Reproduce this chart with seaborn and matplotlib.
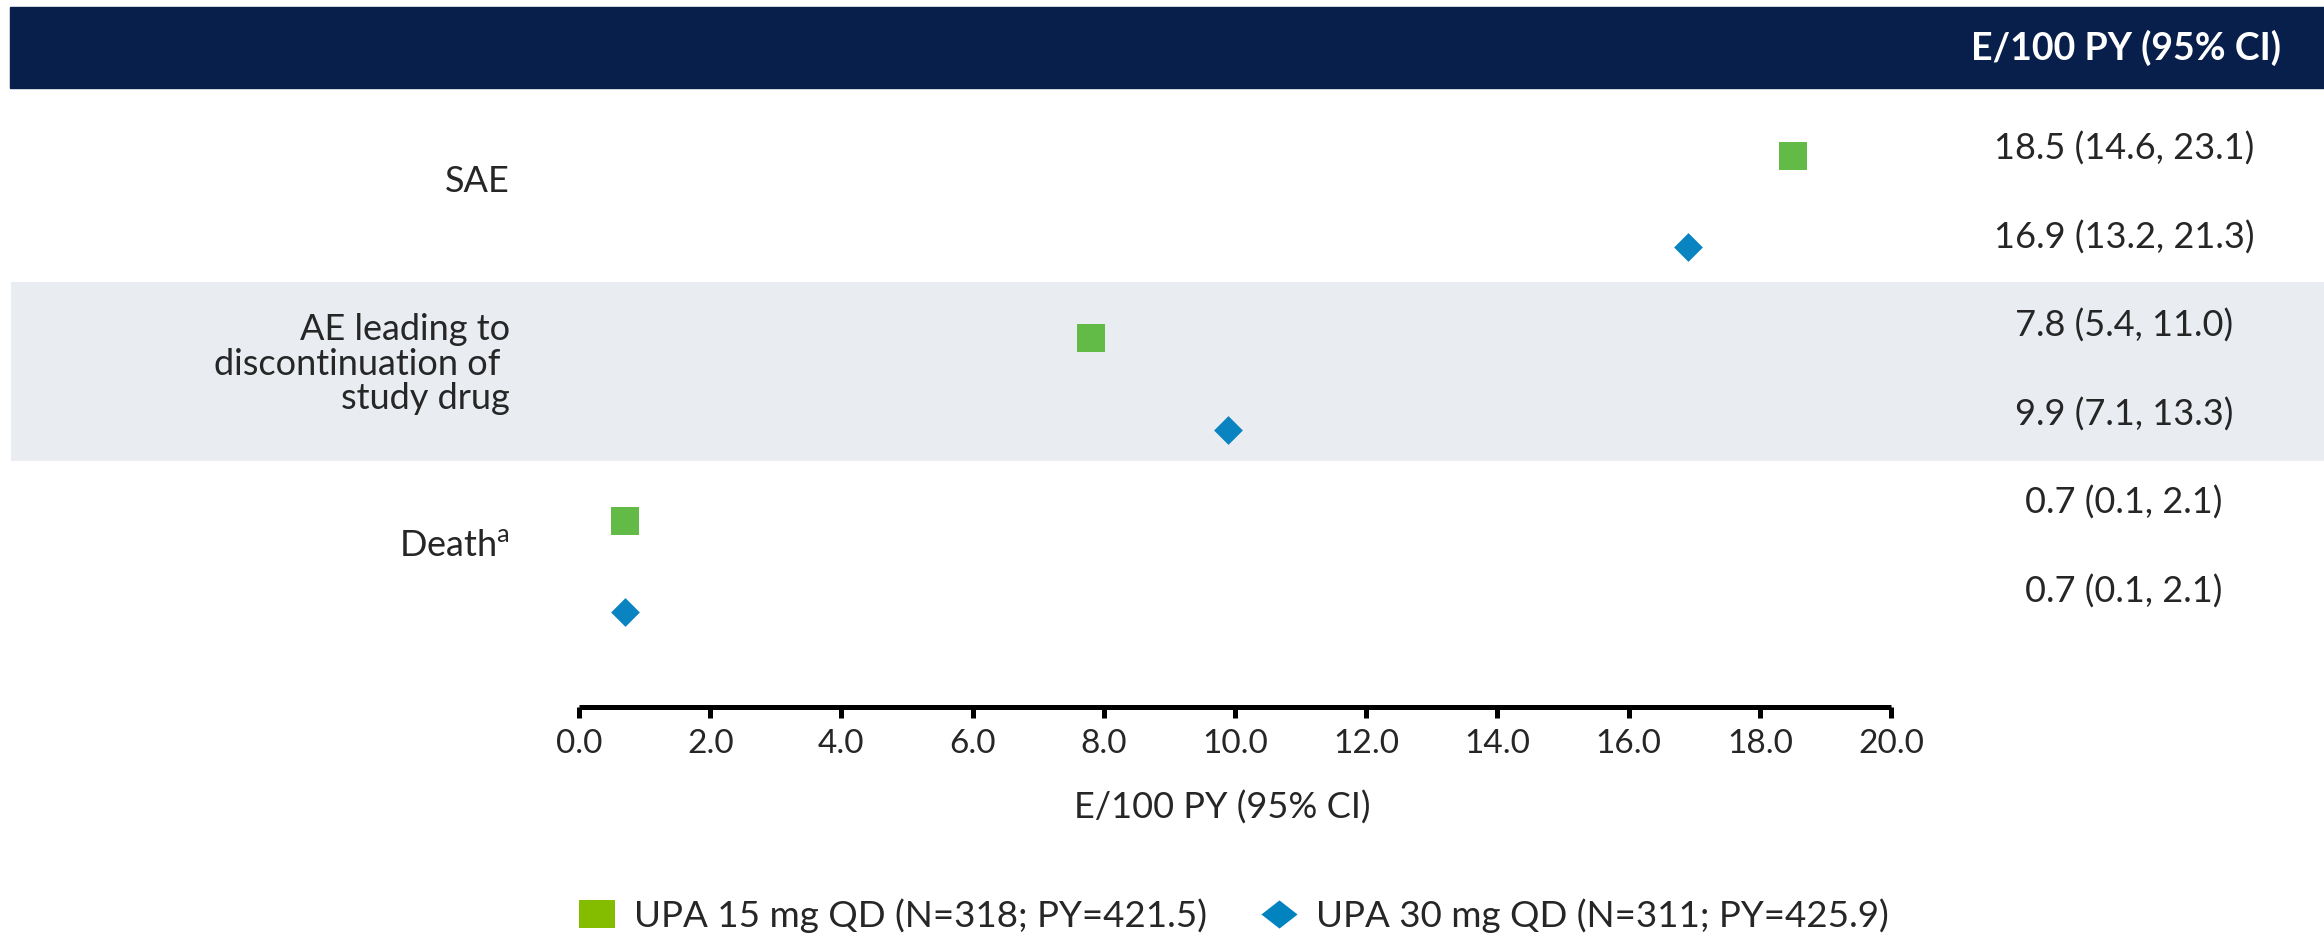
import numpy as np
import pandas as pd
import matplotlib
matplotlib.use("Agg")
import matplotlib.pyplot as plt
from matplotlib.patches import Rectangle
from matplotlib.lines import Line2D
from matplotlib.path import Path
import seaborn as sns

# ---- data -------------------------------------------------------------
categories = ["SAE",
              "AE leading to\ndiscontinuation of \nstudy drug",
              "Death$^{\\mathregular{a}}$"]
groups = ["UPA 15 mg QD (N=318; PY=421.5)", "UPA 30 mg QD (N=311; PY=425.9)"]
upa15_rate = [18.5, 7.8, 0.7]
upa15_lo = [14.6, 5.4, 0.1]
upa15_hi = [23.1, 11.0, 2.1]
upa30_rate = [16.9, 9.9, 0.7]
upa30_lo = [13.2, 7.1, 0.1]
upa30_hi = [21.3, 13.3, 2.1]
xticks = [0.0, 2.0, 4.0, 6.0, 8.0, 10.0, 12.0, 14.0, 16.0, 18.0, 20.0]
axis_title = "E/100 PY (95% CI)"
column_title = "E/100 PY (95% CI)"

# long table: one row per (category, group)
rows = []
for i, cat in enumerate(categories):
    rows.append(dict(category=cat, group=groups[0], row=2 * i,
                     rate=upa15_rate[i], lo=upa15_lo[i], hi=upa15_hi[i]))
    rows.append(dict(category=cat, group=groups[1], row=2 * i + 1,
                     rate=upa30_rate[i], lo=upa30_lo[i], hi=upa30_hi[i]))
df = pd.DataFrame(rows)

# ---- style --------------------------------------------------------------
sns.set_style("white")
plt.rcParams["font.family"] = ["Lato", "DejaVu Sans"]
plt.rcParams["mathtext.fontset"] = "custom"
plt.rcParams["mathtext.rm"] = "Lato"

NAVY = "#081F4B"
BAND = "#E9EDF2"
GREEN = "#62BB46"
BLUE = "#0A84C1"
GREEN_KEY = "#84BD00"
BLUE_KEY = "#0083BE"

W, H = 2324, 943
fig = plt.figure(figsize=(W / 100, H / 100), dpi=100)
fig.patch.set_facecolor("white")

# plotting area (pixel layout converted to figure fractions)
x0, x1 = 579, 1891
y_top, y_axis = 88, 707
ax = fig.add_axes([x0 / W, 1 - y_axis / H, (x1 - x0) / W, (y_axis - y_top) / H])
ax.set_facecolor("none")

# header strip
fig.patches.append(Rectangle((10 / W, 1 - 88 / H), (W - 10) / W, 81 / H,
                             transform=fig.transFigure, color=NAVY, zorder=0))

# markers
d15 = df[df.group == groups[0]]
d30 = df[df.group == groups[1]]
sns.scatterplot(data=d15, x="rate", y="row", marker="s", s=380, color=GREEN,
                linewidth=0, ax=ax, zorder=4, legend=False)
sns.scatterplot(data=d30, x="rate", y="row", marker="D", s=215, color=BLUE,
                linewidth=0, ax=ax, zorder=4, legend=False)

ax.set_xlim(0, 20)
ax.set_ylim(6.04, -0.746)

# shaded band behind the middle category
ax.axhspan(1.38, 3.34, xmin=(11 - x0) / (x1 - x0), xmax=(W - x0) / (x1 - x0),
           color=BAND, zorder=0, clip_on=False, linewidth=0)

# axis styling
for side in ["top", "left", "right"]:
    ax.spines[side].set_visible(False)
ax.spines["bottom"].set_linewidth(3.6)
ax.spines["bottom"].set_color("black")
ax.spines["bottom"].set_capstyle("butt")
ax.set_xticks(xticks)
ax.set_xticklabels([f"{t:.1f}" for t in xticks], fontsize=24)
ax.tick_params(axis="x", direction="out", length=8, width=3.6, color="black",
               pad=8, bottom=True)
ax.set_yticks([])
ax.set_ylabel("")
ax.set_xlabel(axis_title, fontsize=26, labelpad=22)
ax.xaxis.set_label_coords(0.49, -0.135)

# category labels on the left
label_x = (510 - x0) / (x1 - x0)
for i, cat in enumerate(categories):
    ax.text(label_x, 2 * i + 0.28, cat, transform=ax.get_yaxis_transform(),
            ha="right", va="center", multialignment="right", fontsize=26,
            linespacing=1.05, zorder=5)

# value column on the right
val_x = (2124 - x0) / (x1 - x0)
for _, r in df.iterrows():
    ax.text(val_x, r["row"] - 0.08 - 0.03 * r["row"],
            f"{r['rate']:.1f} ({r['lo']:.1f}, {r['hi']:.1f})",
            transform=ax.get_yaxis_transform(), ha="center", va="center",
            fontsize=26, zorder=5, clip_on=False)

fig.text(2126 / W, 1 - 48 / H, column_title, color="white", fontsize=27,
         fontweight="bold", ha="center", va="center", zorder=3)

# legend keys
sq = Path([(-1, -0.78), (1, -0.78), (1, 0.78), (-1, 0.78), (-1, -0.78)],
          [Path.MOVETO, Path.LINETO, Path.LINETO, Path.LINETO, Path.CLOSEPOLY])
dm = Path([(-1, 0), (0, 0.78), (1, 0), (0, -0.78), (-1, 0)],
          [Path.MOVETO, Path.LINETO, Path.LINETO, Path.LINETO, Path.CLOSEPOLY])
handles = [Line2D([], [], marker=sq, linestyle="none", color=GREEN_KEY,
                  markersize=26, markeredgewidth=0),
           Line2D([], [], marker=dm, linestyle="none", color=BLUE_KEY,
                  markersize=26, markeredgewidth=0)]
fig.legend(handles, groups, loc="center left", ncol=2, frameon=False,
           bbox_to_anchor=(579 / W, 1 - 916 / H), borderpad=0, borderaxespad=0,
           fontsize=26.5, handlelength=1.0, handletextpad=0.5, columnspacing=1.45)

fig.savefig("out.png", dpi=100, facecolor="white")
